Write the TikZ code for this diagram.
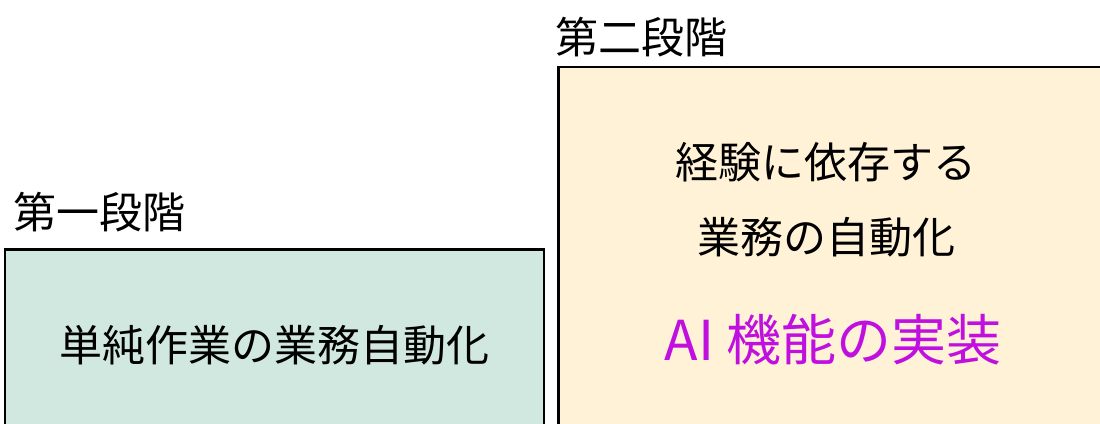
\documentclass[tikz,border=0pt]{standalone}
\usepackage{fontspec}
\setmainfont{Noto Sans CJK JP}
\definecolor{boxgreen}{HTML}{D0E8E0}
\definecolor{boxyellow}{HTML}{FFF2D6}
\definecolor{aipurple}{HTML}{C010E0}
\begin{document}
\begin{tikzpicture}[x=1pt,y=1pt,
  stagebox/.style={draw=black,line width=2.2pt},
  lbl/.style={inner sep=0pt,anchor=center,font=\fontsize{43}{50}\selectfont}]
\useasboundingbox (0,0) rectangle (1100,423);
\clip (0,0) rectangle (1100,423);
\fill[white] (0,0) rectangle (1100,423);
\draw[stagebox,fill=boxgreen] (5,-20) rectangle (544,173.5);
\draw[stagebox,fill=boxyellow] (558.5,-20) rectangle (1120,356.3);
\node[lbl,anchor=west] (s1) at (13,211) {第一段階};
\node[lbl,anchor=west] (s2) at (555,386) {第二段階};
\node[lbl] (t1) at (274.5,78) {単純作業の業務自動化};
\node[lbl] (t2) at (826,261) {経験に依存する};
\node[lbl] (t3) at (826,186) {業務の自動化};
\node[lbl,text=aipurple,font=\fontsize{55}{60}\selectfont] (t4) at (833,83) {AI 機能の実装};
\end{tikzpicture}
\end{document}
